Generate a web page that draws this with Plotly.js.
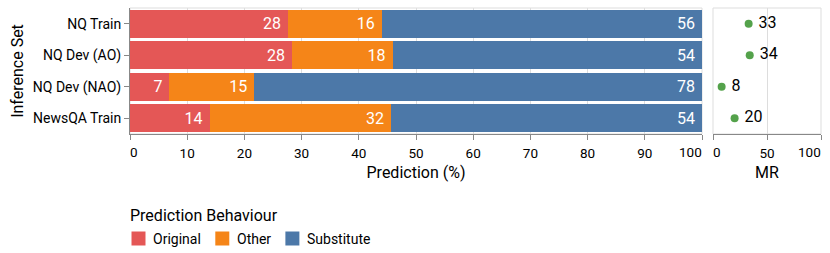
<!DOCTYPE html>
<html><head><meta charset="utf-8">
<script src="https://cdn.plot.ly/plotly-3.0.1.min.js"></script>
<style>html,body{margin:0;padding:0;background:#fff}#chart{width:830px;height:253px}</style>
</head><body><div id="chart"></div>
<script>
// ---- data ----
const inferenceSets = ['NQ Train', 'NQ Dev (AO)', 'NQ Dev (NAO)', 'NewsQA Train'];
const behaviours = ['Original', 'Other', 'Substitute'];
const originalPct = [27.6, 28.3, 6.9, 13.9];
const otherPct = [16.4, 17.6, 14.8, 31.7];
const substitutePct = [56.0, 54.1, 78.3, 54.4];
const mrValues = [33, 34, 8, 20];
const predTicks = [0, 10, 20, 30, 40, 50, 60, 70, 80, 90, 100];
const mrTicks = [0, 50, 100];
const legendTitle = 'Prediction Behaviour';
const xTitle = 'Prediction (%)';
const x2Title = 'MR';
const yTitle = 'Inference Set';

// ---- style ----
const FONT = 'Roboto, "Open Sans", sans-serif';
const colors = ['#e45756', '#f58518', '#4c78a8'];
const mrColor = '#54a24b';
const W = 830, H = 253;
const M = {l: 130, r: 9, t: 8, b: 119};
const PW = W - M.l - M.r, PH = H - M.t - M.b;
const px2x = p => (p - M.l) / PW;
const py2y = p => (H - M.b - p) / PH;
const leftEnd = 702, rightStart = 713;

const series = [originalPct, otherPct, substitutePct];
const traces = series.map((vals, i) => ({
  type: 'bar', orientation: 'h', name: behaviours[i],
  y: inferenceSets, x: vals, xaxis: 'x', yaxis: 'y',
  marker: {color: colors[i], line: {width: 0}},
  text: vals.map(v => String(Math.round(v))),
  texttemplate: '%{text}\u00a0',
  textposition: 'inside', insidetextanchor: 'end', constraintext: 'none',
  textfont: {family: FONT, size: 16, color: '#fff'},
  showlegend: false, hoverinfo: 'x+y+name'
}));
traces.push({
  type: 'scatter', mode: 'markers+text', name: 'MR',
  x: mrValues, y: inferenceSets, xaxis: 'x2', yaxis: 'y2',
  marker: {color: mrColor, size: 8},
  text: mrValues.map(String), texttemplate: '\u00a0%{text}', textposition: 'middle right',
  textfont: {family: FONT, size: 16, color: '#000'},
  showlegend: false, cliponaxis: false
});

const tickFont = {family: FONT, size: 13.5, color: '#000'};
const titleFont = {family: FONT, size: 16, color: '#000'};
const axisCommon = {
  ticks: 'outside', ticklen: 5, tickcolor: '#888', tickwidth: 1,
  showline: true, linecolor: '#888', linewidth: 1, ticklabelstandoff: 2,
  gridcolor: '#ddd', gridwidth: 1, zeroline: false, tickfont: tickFont,
  fixedrange: true
};
const blankEnds = ticks => ticks.map((t, i) => (i === 0 || i === ticks.length - 1) ? '' : String(t));

const shapes = [
  {type: 'rect', xref: 'x domain', yref: 'y domain', x0: 0, x1: 1, y0: 0, y1: 1, line: {color: '#ddd', width: 1}, layer: 'below'},
  {type: 'rect', xref: 'x2 domain', yref: 'y2 domain', x0: 0, x1: 1, y0: 0, y1: 1, line: {color: '#ddd', width: 1}, layer: 'below'}
];
const annotations = [];
// flush end tick labels
[['x', predTicks], ['x2', mrTicks]].forEach(([ax, ticks]) => {
  const first = ticks[0], last = ticks[ticks.length - 1];
  annotations.push({xref: ax, yref: 'paper', x: first, y: 0, xanchor: 'left', yanchor: 'top', yshift: -8, xshift: -2,
    text: String(first), showarrow: false, font: tickFont});
  annotations.push({xref: ax, yref: 'paper', x: last, y: 0, xanchor: 'right', yanchor: 'top', yshift: -8, xshift: 2,
    text: String(last), showarrow: false, font: tickFont});
});
// legend
const legendTitleFont = {family: FONT, size: 16, color: '#000'};
const legendFont = {family: FONT, size: 14, color: '#000'};
annotations.push({xref: 'paper', yref: 'paper', x: px2x(130), y: py2y(215), xanchor: 'left', yanchor: 'middle',
  xshift: -2, text: legendTitle, showarrow: false, font: legendTitleFont});
const ctx = document.createElement('canvas').getContext('2d');
ctx.font = '14px Roboto';
let lx = 131.5;
behaviours.forEach((b, i) => {
  shapes.push({type: 'rect', xref: 'paper', yref: 'paper', x0: px2x(lx), x1: px2x(lx + 14),
    y0: py2y(245.5), y1: py2y(231.5), fillcolor: colors[i], line: {width: 0}});
  annotations.push({xref: 'paper', yref: 'paper', x: px2x(lx + 21.5), y: py2y(238.5), xanchor: 'left', yanchor: 'middle',
    xshift: -2, text: b, showarrow: false, font: legendFont});
  lx += 14 + 7.5 + ctx.measureText(b).width + 14.5;
});

const layout = {
  width: W, height: H, margin: M, paper_bgcolor: '#fff', plot_bgcolor: '#fff',
  font: {family: FONT, color: '#000'},
  barmode: 'stack', bargap: 0.1, showlegend: false,
  xaxis: Object.assign({}, axisCommon, {
    domain: [0, px2x(leftEnd)], range: [0, 100], anchor: 'y',
    tickvals: predTicks, ticktext: blankEnds(predTicks),
    title: {text: xTitle, font: titleFont, standoff: 6}
  }),
  xaxis2: Object.assign({}, axisCommon, {
    domain: [px2x(rightStart), 1], range: [0, 100], anchor: 'y2',
    tickvals: mrTicks, ticktext: blankEnds(mrTicks),
    title: {text: x2Title, font: titleFont, standoff: 6}
  }),
  yaxis: {
    type: 'category', categoryorder: 'array', categoryarray: inferenceSets, range: [3.5, -0.5],
    ticks: 'outside', ticklen: 5, tickcolor: '#888', showline: true, linecolor: '#888',
    showgrid: false, zeroline: false, tickfont: {family: FONT, size: 14, color: '#000'},
    title: {text: yTitle, font: titleFont, standoff: 5}, anchor: 'x', fixedrange: true
  },
  yaxis2: {
    type: 'category', categoryorder: 'array', categoryarray: inferenceSets, range: [3.5, -0.5],
    anchor: 'x2', showticklabels: false, ticks: '', showline: false, showgrid: false, zeroline: false, fixedrange: true
  },
  shapes: shapes, annotations: annotations
};
Plotly.newPlot('chart', traces, layout, {displayModeBar: false, staticPlot: true});
</script></body></html>
